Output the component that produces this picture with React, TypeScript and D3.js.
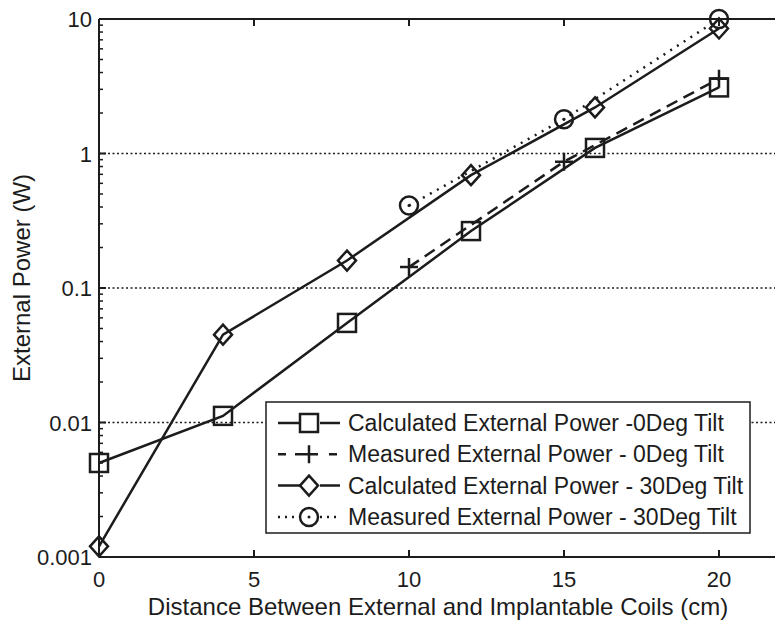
import * as d3 from "d3";

const calc0X = [0, 4, 8, 12, 16, 20];
const calc0Y = [0.005, 0.0112, 0.055, 0.265, 1.1, 3.1];
const meas0X = [10, 15, 20];
const meas0Y = [0.143, 0.87, 3.6];
const calc30X = [0, 4, 8, 12, 16, 20];
const calc30Y = [0.0012, 0.045, 0.16, 0.69, 2.2, 8.5];
const meas30X = [10, 15, 20];
const meas30Y = [0.41, 1.8, 10];

const xTicks = [0, 5, 10, 15, 20];
const yTicks = [0.001, 0.01, 0.1, 1, 10];
const yTickLabels = ["0.001", "0.01", "0.1", "1", "10"];
const legendLabels = [
  "Calculated External Power -0Deg Tilt",
  "Measured External Power - 0Deg Tilt",
  "Calculated External Power - 30Deg Tilt",
  "Measured External Power - 30Deg Tilt",
];

const W = 775;
const H = 629;
const left = 99;
const top = 19;
const bottom = 557;
const ink = "#1c1c1c";
const font = "'Liberation Sans', Arial, sans-serif";

const x = d3.scaleLinear().domain([0, 22]).range([left, left + 22 * 31]);
const y = d3.scaleLog().domain([0.001, 10]).range([bottom, top]);

type Marker = "square" | "plus" | "diamond" | "circle";

const series: { xs: number[]; ys: number[]; dash: string; marker: Marker }[] = [
  { xs: calc0X, ys: calc0Y, dash: "none", marker: "square" },
  { xs: meas0X, ys: meas0Y, dash: "12 7", marker: "plus" },
  { xs: calc30X, ys: calc30Y, dash: "none", marker: "diamond" },
  { xs: meas30X, ys: meas30Y, dash: "2 6", marker: "circle" },
];

const MarkerShape = ({ kind, cx, cy }: { kind: Marker; cx: number; cy: number }) => {
  const s = 9;
  const common = { fill: "none", stroke: ink, strokeWidth: 2.5 };
  if (kind === "square") return <rect x={cx - s} y={cy - s} width={2 * s} height={2 * s} {...common} />;
  if (kind === "circle")
    return (
      <g>
        <circle cx={cx} cy={cy} r={s} {...common} />
        <circle cx={cx} cy={cy} r={1.5} fill={ink} />
      </g>
    );
  if (kind === "diamond")
    return <path d={`M${cx},${cy - s - 1}L${cx + s},${cy}L${cx},${cy + s + 1}L${cx - s},${cy}Z`} {...common} />;
  return <path d={`M${cx - s},${cy}H${cx + s}M${cx},${cy - s}V${cy + s}`} {...common} />;
};

const line = d3
  .line<[number, number]>()
  .x((d) => x(d[0]))
  .y((d) => y(d[1]));

export default function App() {
  const minor: number[] = [];
  for (let e = -3; e < 1; e++) for (let k = 2; k <= 9; k++) minor.push(k * Math.pow(10, e));
  const xRight = x(22);

  return (
    <svg width={W} height={H} style={{ position: "absolute", left: 0, top: 0, background: "#fff" }}>
      {/* grid */}
      {yTicks.slice(1, 4).map((t) => (
        <line key={t} x1={left} x2={xRight} y1={y(t)} y2={y(t)} stroke={ink} strokeWidth={1.3} strokeDasharray="2 2.5" />
      ))}
      {/* axes box */}
      <line x1={left} x2={xRight} y1={top} y2={top} stroke={ink} strokeWidth={2} />
      <line x1={left} x2={xRight} y1={bottom} y2={bottom} stroke={ink} strokeWidth={2} />
      <line x1={left} x2={left} y1={top} y2={bottom} stroke={ink} strokeWidth={2} />
      {/* y ticks */}
      {yTicks.map((t, i) => (
        <g key={t}>
          <line x1={left} x2={left + 7} y1={y(t)} y2={y(t)} stroke={ink} strokeWidth={2} />
          <text x={left - 7} y={y(t) + 8} textAnchor="end" fontSize={22} fontFamily={font} fill={ink}>
            {yTickLabels[i]}
          </text>
        </g>
      ))}
      {minor.map((t) => (
        <line key={t} x1={left} x2={left + 4} y1={y(t)} y2={y(t)} stroke={ink} strokeWidth={1.5} />
      ))}
      {/* x ticks */}
      {xTicks.map((t) => (
        <g key={t}>
          <line x1={x(t)} x2={x(t)} y1={bottom} y2={bottom - 7} stroke={ink} strokeWidth={2} />
          <line x1={x(t)} x2={x(t)} y1={top} y2={top + 7} stroke={ink} strokeWidth={2} />
          <text x={x(t)} y={bottom + 30} textAnchor="middle" fontSize={22} fontFamily={font} fill={ink}>
            {t}
          </text>
        </g>
      ))}
      <text x={438} y={615} textAnchor="middle" fontSize={24} fontFamily={font} fill={ink}>
        Distance Between External and Implantable Coils (cm)
      </text>
      <text transform={`translate(30,${(top + bottom) / 2 - 10}) rotate(-90)`} textAnchor="middle" fontSize={24} fontFamily={font} fill={ink}>
        External Power (W)
      </text>
      {/* series */}
      {series.map((s, i) => {
        const pts = s.xs.map((v, j) => [v, s.ys[j]] as [number, number]);
        return (
          <g key={i}>
            <path d={line(pts) ?? ""} fill="none" stroke={ink} strokeWidth={2.5} strokeDasharray={s.dash} />
            {pts.map((p, j) => (
              <MarkerShape key={j} kind={s.marker} cx={x(p[0])} cy={y(p[1])} />
            ))}
          </g>
        );
      })}
      {/* legend */}
      <rect x={266} y={402} width={484} height={131} fill="#fff" stroke={ink} strokeWidth={1.5} />
      {series.map((s, i) => {
        const cy = 423 + i * 31.3;
        return (
          <g key={i}>
            <line x1={278} x2={340} y1={cy} y2={cy} stroke={ink} strokeWidth={2.5} strokeDasharray={s.dash === "none" ? "none" : s.dash === "12 7" ? "8 9" : "2 5"} />
            <rect x={300} y={cy - 11} width={20} height={22} fill="#fff" />
            <MarkerShape kind={s.marker} cx={309} cy={cy} />
            <text x={348} y={cy + 8} fontSize={23} fontFamily={font} fill={ink}>
              {legendLabels[i]}
            </text>
          </g>
        );
      })}
    </svg>
  );
}
